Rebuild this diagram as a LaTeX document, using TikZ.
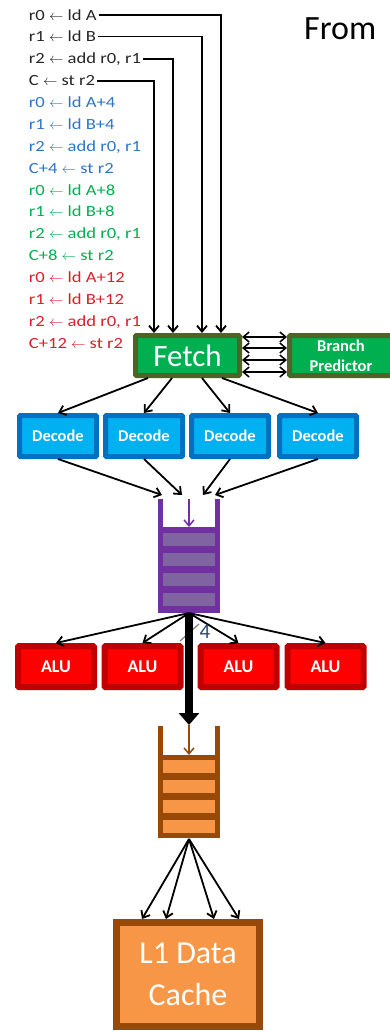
\documentclass[tikz,border=0pt]{standalone}
\usepackage{fontspec}
\setmainfont{Carlito}
\newfontfamily\instfont{Carlito}[FakeStretch=1.2]
\usepackage{tikz}
\usetikzlibrary{calc,arrows.meta}
\definecolor{fetchosc}{RGB}{79,98,40}
\definecolor{fetchclr}{RGB}{0,176,80}
\definecolor{decosc}{RGB}{0,112,192}
\definecolor{decclr}{RGB}{0,176,240}
\definecolor{aluosc}{RGB}{192,0,0}
\definecolor{aluclr}{RGB}{255,0,0}
\definecolor{colamor}{RGB}{112,48,160}
\definecolor{colalila}{RGB}{128,100,162}
\definecolor{cachemar}{RGB}{152,72,7}
\definecolor{cachenar}{RGB}{247,150,70}
\definecolor{instazul}{RGB}{46,117,200}
\definecolor{instverde}{RGB}{0,176,80}
\definecolor{instrojo}{RGB}{220,30,40}
\definecolor{instnegro}{RGB}{38,38,38}

\begin{document}
\begin{tikzpicture}[x=1pt, y=-1pt, >={Straight Barb[length=6pt,width=10pt]}, line width=1.8pt,
    instr/.style={anchor=base west, inner sep=1pt, font=\instfont\fontsize{15.5}{17}\selectfont},
    etapa/.style={draw, line width=5pt, inner sep=0pt, text=white, rounded corners=1pt},
    deco/.style={etapa, draw=decosc, fill=decclr, minimum width=77pt, minimum height=41pt,
        font=\bfseries\fontsize{16.5}{16.5}\selectfont},
    alu/.style={etapa, line width=6pt, draw=aluosc, fill=aluclr, minimum width=76pt,
        minimum height=41pt, font=\bfseries\fontsize{18}{18}\selectfont},
    cola/.style={minimum width=62pt, minimum height=114pt, inner sep=0pt, outer sep=0pt}]
    \useasboundingbox (0,0) rectangle (389,1031);
    % instrucciones
    \node[instr,text=instnegro] (i1) at (27,20) {r0 $\leftarrow$ ld A};
    \node[instr,text=instnegro] (i2) at (27,41.9) {r1 $\leftarrow$ ld B};
    \node[instr,text=instnegro] (i3) at (27,63.7) {r2 $\leftarrow$ add r0, r1};
    \node[instr,text=instnegro] (i4) at (27,85.6) {C $\leftarrow$ st r2};
    \node[instr,text=instazul] (i5) at (27,107.5) {r0 $\leftarrow$ ld A+4};
    \node[instr,text=instazul] (i6) at (27,129.4) {r1 $\leftarrow$ ld B+4};
    \node[instr,text=instazul] (i7) at (27,151.2) {r2 $\leftarrow$ add r0, r1};
    \node[instr,text=instazul] (i8) at (27,173.1) {C+4 $\leftarrow$ st r2};
    \node[instr,text=instverde] (i9) at (27,195) {r0 $\leftarrow$ ld A+8};
    \node[instr,text=instverde] (i10) at (27,216.8) {r1 $\leftarrow$ ld B+8};
    \node[instr,text=instverde] (i11) at (27,238.7) {r2 $\leftarrow$ add r0, r1};
    \node[instr,text=instverde] (i12) at (27,260.6) {C+8 $\leftarrow$ st r2};
    \node[instr,text=instrojo] (i13) at (27,282.4) {r0 $\leftarrow$ ld A+12};
    \node[instr,text=instrojo] (i14) at (27,304.3) {r1 $\leftarrow$ ld B+12};
    \node[instr,text=instrojo] (i15) at (27,326.2) {r2 $\leftarrow$ add r0, r1};
    \node[instr,text=instrojo] (i16) at (27,348) {C+12 $\leftarrow$ st r2};
    \node[anchor=base west, font=\fontsize{34}{34}\selectfont] (desde) at (300,39) {From};
    % fetch y predictor
    \node[etapa, draw=fetchosc, fill=fetchclr, minimum width=104pt, minimum height=40pt,
        font=\fontsize{31}{31}\selectfont] (fetch) at (187.5,355.5) {Fetch};
    \node[etapa, draw=fetchosc, fill=fetchclr, minimum width=103pt, minimum height=40pt,
        align=center, font=\bfseries\fontsize{16.5}{20}\selectfont] (bp) at (341,355.5) {Branch\\Predictor};
    \draw[->] (i1.east) -| ($(fetch.north)+(33.5,0)$);
    \draw[->] (i2.east) -| ($(fetch.north)+(14.5,0)$);
    \draw[->] (i3.east) -| ($(fetch.north)+(-14.5,0)$);
    \draw[->] (i4.east) -| ($(fetch.north)+(-33.5,0)$);
    \draw[<->,line width=1.5pt] ($(fetch.east)+(0,-18.5)$) -- ($(bp.west)+(0,-18.5)$);
    \draw[<->,line width=1.5pt] ($(fetch.east)+(0,-7.5)$) -- ($(bp.west)+(0,-7.5)$);
    \draw[<->,line width=1.5pt] ($(fetch.east)+(0,4.5)$) -- ($(bp.west)+(0,4.5)$);
    \draw[<->,line width=1.5pt] ($(fetch.east)+(0,16.5)$) -- ($(bp.west)+(0,16.5)$);
    % decodificadores
    \node[deco] (d1) at (58,436) {Decode};
    \node[deco] (d2) at (144,436) {Decode};
    \node[deco] (d3) at (230,436) {Decode};
    \node[deco] (d4) at (318,436) {Decode};
    \draw[->] ($(fetch.south)+(-39.5,0)$) -- (d1.north);
    \draw[->] ($(fetch.south)+(-15.5,0)$) -- (d2.north);
    \draw[->] ($(fetch.south)+(14.5,0)$) -- (d3.north);
    \draw[->] ($(fetch.south)+(34.5,0)$) -- (d4.north);
    % cola de instrucciones (morada)
    \node[cola] (iq) at (189,556) {};
    \fill[colamor] (158,499) rectangle (163,613);
    \fill[colamor] (215,499) rectangle (220,613);
    \fill[colamor] (158,527) rectangle (220,613);
    \fill[colalila] (163,533) rectangle (215,546);
    \fill[colalila] (163,553) rectangle (215,566);
    \fill[colalila] (163,573) rectangle (215,586);
    \fill[colalila] (163,593) rectangle (215,606);
    \draw[->,colamor,line width=1.5pt] (iq.north) -- (189,527);
    \draw[->] (d1.south) -- ($(iq.north)+(-27,-4)$);
    \draw[->] (d2.south) -- ($(iq.north)+(-7,-4)$);
    \draw[->] (d3.south) -- ($(iq.north)+(14,-4)$);
    \draw[->] (d4.south) -- ($(iq.north)+(26,-4)$);
    % ALUs
    \node[alu] (a1) at (56,666.5) {ALU};
    \node[alu] (a2) at (142.5,666.5) {ALU};
    \node[alu] (a3) at (238.5,666.5) {ALU};
    \node[alu] (a4) at (325.5,666.5) {ALU};
    \draw[->] (iq.south) -- (a1.north);
    \draw[->] (iq.south) -- (a2.north);
    \draw[->] (iq.south) -- (a3.north);
    \draw[->] (iq.south) -- (a4.north);
    % cola load/store (naranja)
    \node[cola] (lsq) at (189,782) {};
    \fill[cachemar] (158,726) rectangle (163,838);
    \fill[cachemar] (215,726) rectangle (220,838);
    \fill[cachemar] (158,755) rectangle (220,838);
    \fill[cachenar] (163,760) rectangle (215,773);
    \fill[cachenar] (163,780) rectangle (215,793);
    \fill[cachenar] (163,800) rectangle (215,813);
    \fill[cachenar] (163,820) rectangle (215,833);
    \draw[->,cachemar,line width=1.5pt] (lsq.north) -- (189,755);
    % bus ancho 4
    \draw[gray,line width=1.2pt] (180,641) -- (199,624);
    \draw[-{Triangle[width=20pt,length=12pt]},line width=8pt] (iq.south) -- (lsq.north);
    \node[font=\fontsize{21}{21}\selectfont, text={rgb,255:red,40;green,70;blue,120}] (ancho) at (205,632) {4};
    % cache L1
    \node[etapa, line width=7pt, draw=cachemar, fill=cachenar, rounded corners=0pt,
        minimum width=143pt, minimum height=104pt, align=center,
        font=\fontsize{32}{42}\selectfont] (l1) at (188,974.5) {L1 Data\\Cache};
    \draw[->] (lsq.south) -- ($(l1.north)+(-46,0)$);
    \draw[->] (lsq.south) -- ($(l1.north)+(-22,0)$);
    \draw[->] (lsq.south) -- ($(l1.north)+(26,0)$);
    \draw[->] (lsq.south) -- ($(l1.north)+(51,0)$);
\end{tikzpicture}
\end{document}
